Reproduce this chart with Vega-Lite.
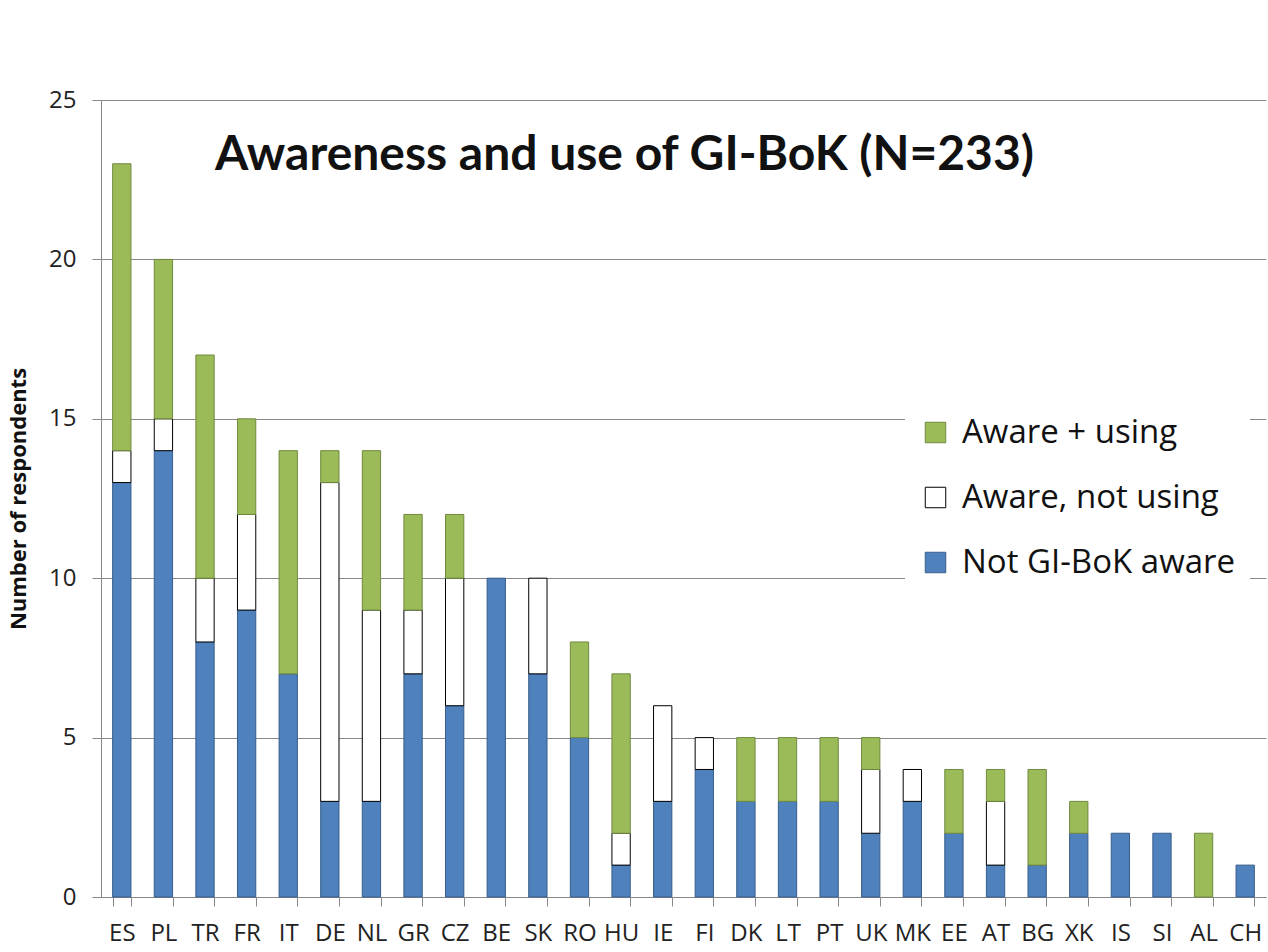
{
  "$schema": "https://vega.github.io/schema/vega-lite/v6.json",
  "width": 1165,
  "height": 797,
  "autosize": {"type": "none"},
  "padding": {"left": 101, "top": 100, "right": 2, "bottom": 55},
  "background": "white",
  "title": {
    "text": "Awareness and use of GI-BoK (N=233)",
    "anchor": "start",
    "frame": "group",
    "dx": 114,
    "offset": -92,
    "font": "Lato",
    "fontSize": 48,
    "fontWeight": "bold",
    "color": "#111111"
  },
  "config": {
    "font": "Open Sans",
    "view": {"stroke": null}
  },
  "data": {
    "values": [
      {"country": "ES", "status": "Not GI-BoK aware", "count": 13},
      {"country": "ES", "status": "Aware, not using", "count": 1},
      {"country": "ES", "status": "Aware + using", "count": 9},
      {"country": "PL", "status": "Not GI-BoK aware", "count": 14},
      {"country": "PL", "status": "Aware, not using", "count": 1},
      {"country": "PL", "status": "Aware + using", "count": 5},
      {"country": "TR", "status": "Not GI-BoK aware", "count": 8},
      {"country": "TR", "status": "Aware, not using", "count": 2},
      {"country": "TR", "status": "Aware + using", "count": 7},
      {"country": "FR", "status": "Not GI-BoK aware", "count": 9},
      {"country": "FR", "status": "Aware, not using", "count": 3},
      {"country": "FR", "status": "Aware + using", "count": 3},
      {"country": "IT", "status": "Not GI-BoK aware", "count": 7},
      {"country": "IT", "status": "Aware + using", "count": 7},
      {"country": "DE", "status": "Not GI-BoK aware", "count": 3},
      {"country": "DE", "status": "Aware, not using", "count": 10},
      {"country": "DE", "status": "Aware + using", "count": 1},
      {"country": "NL", "status": "Not GI-BoK aware", "count": 3},
      {"country": "NL", "status": "Aware, not using", "count": 6},
      {"country": "NL", "status": "Aware + using", "count": 5},
      {"country": "GR", "status": "Not GI-BoK aware", "count": 7},
      {"country": "GR", "status": "Aware, not using", "count": 2},
      {"country": "GR", "status": "Aware + using", "count": 3},
      {"country": "CZ", "status": "Not GI-BoK aware", "count": 6},
      {"country": "CZ", "status": "Aware, not using", "count": 4},
      {"country": "CZ", "status": "Aware + using", "count": 2},
      {"country": "BE", "status": "Not GI-BoK aware", "count": 10},
      {"country": "SK", "status": "Not GI-BoK aware", "count": 7},
      {"country": "SK", "status": "Aware, not using", "count": 3},
      {"country": "RO", "status": "Not GI-BoK aware", "count": 5},
      {"country": "RO", "status": "Aware + using", "count": 3},
      {"country": "HU", "status": "Not GI-BoK aware", "count": 1},
      {"country": "HU", "status": "Aware, not using", "count": 1},
      {"country": "HU", "status": "Aware + using", "count": 5},
      {"country": "IE", "status": "Not GI-BoK aware", "count": 3},
      {"country": "IE", "status": "Aware, not using", "count": 3},
      {"country": "FI", "status": "Not GI-BoK aware", "count": 4},
      {"country": "FI", "status": "Aware, not using", "count": 1},
      {"country": "DK", "status": "Not GI-BoK aware", "count": 3},
      {"country": "DK", "status": "Aware + using", "count": 2},
      {"country": "LT", "status": "Not GI-BoK aware", "count": 3},
      {"country": "LT", "status": "Aware + using", "count": 2},
      {"country": "PT", "status": "Not GI-BoK aware", "count": 3},
      {"country": "PT", "status": "Aware + using", "count": 2},
      {"country": "UK", "status": "Not GI-BoK aware", "count": 2},
      {"country": "UK", "status": "Aware, not using", "count": 2},
      {"country": "UK", "status": "Aware + using", "count": 1},
      {"country": "MK", "status": "Not GI-BoK aware", "count": 3},
      {"country": "MK", "status": "Aware, not using", "count": 1},
      {"country": "EE", "status": "Not GI-BoK aware", "count": 2},
      {"country": "EE", "status": "Aware + using", "count": 2},
      {"country": "AT", "status": "Not GI-BoK aware", "count": 1},
      {"country": "AT", "status": "Aware, not using", "count": 2},
      {"country": "AT", "status": "Aware + using", "count": 1},
      {"country": "BG", "status": "Not GI-BoK aware", "count": 1},
      {"country": "BG", "status": "Aware + using", "count": 3},
      {"country": "XK", "status": "Not GI-BoK aware", "count": 2},
      {"country": "XK", "status": "Aware + using", "count": 1},
      {"country": "IS", "status": "Not GI-BoK aware", "count": 2},
      {"country": "SI", "status": "Not GI-BoK aware", "count": 2},
      {"country": "AL", "status": "Aware + using", "count": 2},
      {"country": "CH", "status": "Not GI-BoK aware", "count": 1}
    ]
  },
  "mark": {"type": "bar", "strokeWidth": 1},
  "encoding": {
    "x": {
      "field": "country",
      "type": "nominal",
      "sort": null,
      "scale": {"paddingInner": 0.56, "paddingOuter": 0.28},
      "axis": {
        "title": null,
        "labelAngle": 0,
        "labelFontSize": 24,
        "labelColor": "#222222",
        "labelPadding": 15,
        "tickBand": "extent",
        "tickSize": 9,
        "tickColor": "#888888",
        "domainColor": "#888888"
      }
    },
    "y": {
      "field": "count",
      "type": "quantitative",
      "aggregate": "sum",
      "stack": "zero",
      "scale": {"domain": [0, 25], "nice": false},
      "axis": {
        "values": [0, 5, 10, 15, 20, 25],
        "title": "Number of respondents",
        "titleFontSize": 22,
        "titleFontWeight": "bold",
        "titleColor": "#111111",
        "titlePadding": 18,
        "labelFontSize": 24,
        "labelColor": "#222222",
        "labelPadding": 16,
        "tickSize": 9,
        "tickColor": "#888888",
        "domainColor": "#888888",
        "grid": true,
        "gridColor": "#888888",
        "gridWidth": 1
      }
    },
    "color": {
      "field": "status",
      "type": "nominal",
      "scale": {
        "domain": ["Aware + using", "Aware, not using", "Not GI-BoK aware"],
        "range": ["#9BBB59", "#FFFFFF", "#4F81BD"]
      },
      "legend": {
        "title": null,
        "orient": "none",
        "legendX": 804,
        "legendY": 302,
        "fillColor": "white",
        "padding": 14,
        "labelFontSize": 33,
        "labelColor": "#111111",
        "labelOffset": 10,
        "labelLimit": 400,
        "symbolType": "square",
        "symbolSize": 420,
        "symbolStrokeWidth": 1,
        "rowPadding": 31
      }
    },
    "stroke": {
      "field": "status",
      "type": "nominal",
      "scale": {
        "domain": ["Aware + using", "Aware, not using", "Not GI-BoK aware"],
        "range": ["#71893F", "#000000", "#385D8A"]
      },
      "legend": {
        "title": null,
        "orient": "none",
        "legendX": 804,
        "legendY": 302
      }
    },
    "order": {"field": "status", "sort": "descending"}
  }
}
